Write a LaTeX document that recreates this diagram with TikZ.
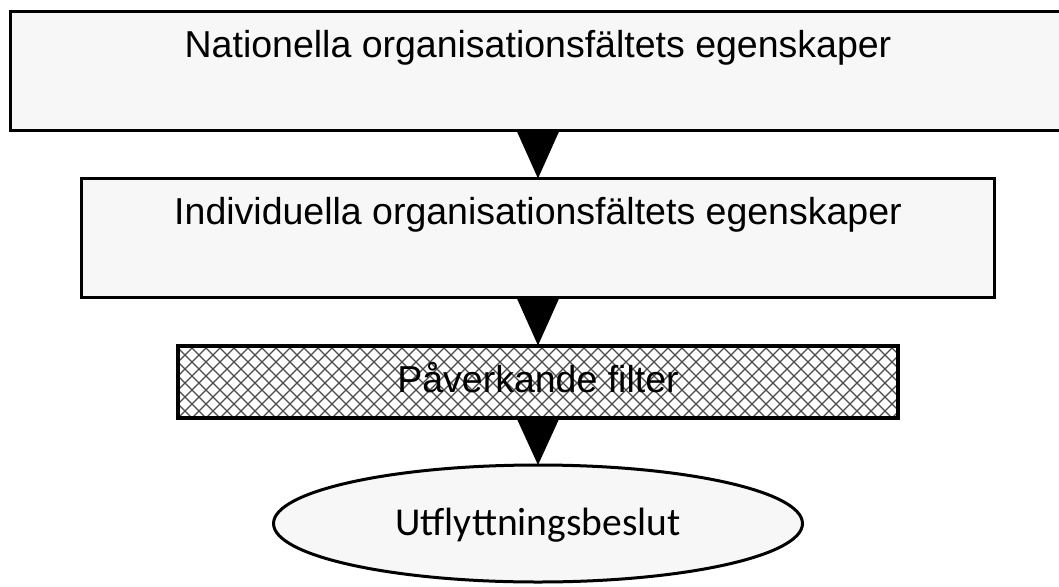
\documentclass[tikz,border=0pt]{standalone}
\usepackage{fontspec}
\setmainfont{Liberation Sans}
\newfontfamily\ovalfont{Carlito}
\usetikzlibrary{positioning,calc,shapes.geometric}

\begin{document}
\begin{tikzpicture}[
  x=1pt, y=-1pt,
  node distance=48pt,
  box/.style={
    rectangle, draw, line width=3pt, fill=black!3, outer sep=0pt,
    inner xsep=0pt, inner ysep=0pt, text height=45.5pt, text depth=73.5pt,
    font=\fontsize{37.5}{44}\selectfont
  },
  hatchline/.style={draw=black!70, line width=1.1pt},
  filterbox/.style={
    rectangle, draw, line width=4pt, fill=white, outer sep=0pt, inner sep=0pt,
    minimum width=720pt, minimum height=72.5pt,
    text height=28pt, text depth=6pt, font=\fontsize{37.5}{44}\selectfont,
    path picture={
      \foreach \k in {-6,...,58} {
        \draw[hatchline] ($(path picture bounding box.south west)+(\k*14,0)$) -- ++(80,-80);
        \draw[hatchline] ($(path picture bounding box.south west)+(\k*14,0)$) -- ++(-80,-80);
      }
    }
  },
  result/.style={
    ellipse, draw, line width=3pt, fill=black!3, outer sep=0pt, inner sep=0pt,
    minimum width=529pt, minimum height=117pt,
    text height=29pt, text depth=6pt, font=\ovalfont\fontsize{39.5}{46}\selectfont
  },
  pointer/.style={fill=black}
]
\useasboundingbox (0,0) rectangle (1059,586);

\node (nat) [box, minimum width=1056pt, anchor=north] at (538,11.5)
  {Nationella organisationsfältets egenskaper};

\node (ind) [box, minimum width=912.5pt, below=of nat]
  {Individuella organisationsfältets egenskaper};

\node (filt) [filterbox, below=of ind] {Påverkande filter};

\node (beslut) [result, below=47pt of filt] {Utflyttningsbeslut};

\fill[pointer] ($(nat.south)+(-21.5,0)$) -- ($(nat.south)+(21.5,0)$) -- (ind.north) -- cycle;
\fill[pointer] ($(ind.south)+(-21.5,0)$) -- ($(ind.south)+(21.5,0)$) -- (filt.north) -- cycle;
\fill[pointer] ($(filt.south)+(-21.5,0)$) -- ($(filt.south)+(21.5,0)$) -- (beslut.north) -- cycle;
\end{tikzpicture}
\end{document}
